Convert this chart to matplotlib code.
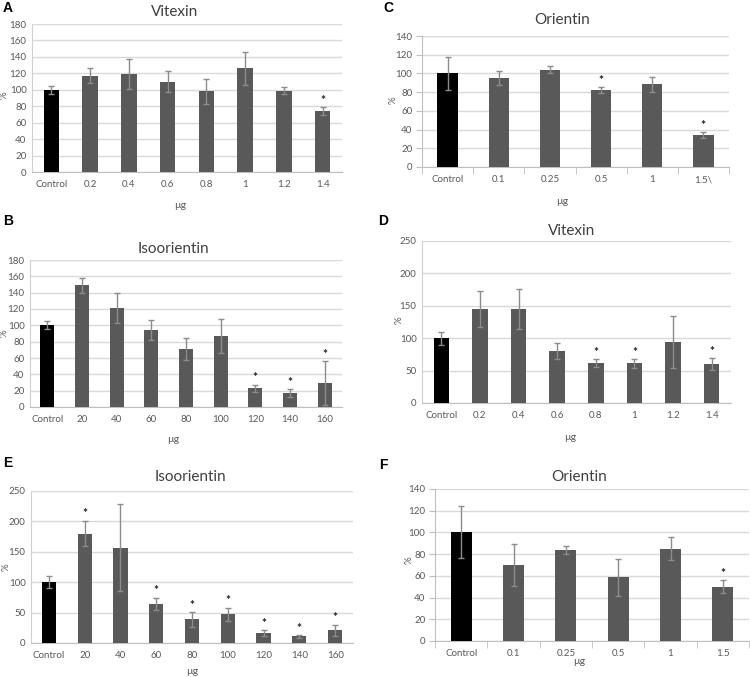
import matplotlib
matplotlib.use('Agg')
import matplotlib.pyplot as plt
import numpy as np

plt.rcParams['font.family'] = ['Lato', 'DejaVu Sans']

# data
a_labels = ['Control', '0.2', '0.4', '0.6', '0.8', '1', '1.2', '1.4']
a_vals = [100, 117, 119, 110, 98, 126, 99, 74]
a_err = [5, 9, 18, 13, 15, 20, 4.5, 5]
a_star = [0, 0, 0, 0, 0, 0, 0, 1]

b_labels = ['Control', '20', '40', '60', '80', '100', '120', '140', '160']
b_vals = [100, 149, 121, 94, 71, 87, 23, 17, 29]
b_err = [5, 9, 18, 12.5, 14, 21, 4.5, 5, 27]
b_star = [0, 0, 0, 0, 0, 0, 1, 1, 1]

c_labels = ['Control', '0.1', '0.25', '0.5', '1', '1.5\\']
c_vals = [100, 95, 104, 82, 88.5, 34]
c_err = [18, 7.5, 4, 3, 8, 3.5]
c_star = [0, 0, 0, 1, 0, 1]

d_labels = ['Control', '0.2', '0.4', '0.6', '0.8', '1', '1.2', '1.4']
d_vals = [100, 145, 145, 80, 62, 61, 94, 60]
d_err = [10, 28, 31, 12, 6, 7, 40, 9.5]
d_star = [0, 0, 0, 0, 1, 1, 0, 1]

e_labels = ['Control', '20', '40', '60', '80', '100', '120', '140', '160']
e_vals = [100, 180, 157, 64, 39, 47, 16, 11, 21]
e_err = [10, 21, 71, 10.5, 12, 11, 5, 2, 9]
e_star = [0, 1, 0, 1, 1, 1, 1, 1, 1]

f_labels = ['Control', '0.1', '0.25', '0.5', '1', '1.5']
f_vals = [100, 70, 83.5, 58.5, 85, 50]
f_err = [24, 19, 3.7, 17, 10.6, 6]
f_star = [0, 0, 0, 0, 0, 1]

W, H = 750, 677
fig = plt.figure(figsize=(W / 100, H / 100), dpi=100)

GRID = '#d9d9d9'
BAR = '#595959'
ERR = '#8c8c8c'
TXT = '#595959'


def fx(x):
    return x / W


def fy(y):
    return 1 - y / H


def panel(box, letter, letter_xy, title, title_xy, xlab_xy, ylab_xy,
          labels, vals, errs, stars, ymax, ystep, ticked):
    l, t, r, b = box
    ax = fig.add_axes([fx(l), fy(b), fx(r - l), (b - t) / H])
    x = np.arange(len(labels))
    colors = ['black'] + [BAR] * (len(labels) - 1)
    ax.bar(x, vals, width=0.4, color=colors, zorder=3)
    ax.errorbar(x, vals, yerr=errs, fmt='none', ecolor=ERR, elinewidth=1,
                capsize=2.5, capthick=1, zorder=4)
    for i in range(len(labels)):
        if stars[i]:
            ax.annotate('*', (x[i], vals[i] + errs[i]), xytext=(0, 1),
                        textcoords='offset points', ha='center', va='bottom',
                        fontsize=8.5, color='#222222', fontweight='bold')
    ax.set_xlim(-0.5, len(labels) - 0.5)
    ax.set_ylim(0, ymax)
    ax.set_yticks(np.arange(0, ymax + 1, ystep))
    ax.set_xticks(x)
    ax.set_xticklabels(labels)
    ax.grid(axis='y', color=GRID, linewidth=1, zorder=0)
    ax.set_axisbelow(True)
    for s in ['top', 'right']:
        ax.spines[s].set_visible(False)
    ax.spines['bottom'].set_color('#bfbfbf')
    ax.spines['left'].set_color('#d0d0d0' if not ticked else '#bfbfbf')
    ax.tick_params(axis='both', labelsize=7, colors='#bfbfbf', labelcolor=TXT)
    if ticked:
        ax.tick_params(axis='x', which='major', length=0, pad=6)
        ax.set_xticks(np.arange(-0.5, len(labels)), minor=True)
        ax.tick_params(axis='x', which='minor', length=5, color='#bfbfbf')
        ax.tick_params(axis='y', length=4, pad=3)
    else:
        ax.tick_params(axis='x', length=0, pad=6)
        ax.tick_params(axis='y', length=0, pad=4)
    fig.text(fx(letter_xy[0]), fy(letter_xy[1]), letter, fontsize=10,
             fontweight='bold', family=['Liberation Sans', 'DejaVu Sans'],
             ha='center', va='center')
    fig.text(fx(title_xy[0]), fy(title_xy[1]), title, fontsize=11,
             color='#404040', ha='center', va='center')
    fig.text(fx(xlab_xy[0]), fy(xlab_xy[1]), 'µg', fontsize=7.5,
             color=TXT, ha='center', va='center')
    fig.text(fx(ylab_xy[0]), fy(ylab_xy[1]), '%', fontsize=7,
             color=TXT, ha='center', va='center', rotation=90)
    return ax


panel((32, 24, 342, 172), 'A', (8, 8), 'Vitexin', (175, 12), (180, 206), (4, 95),
      a_labels, a_vals, a_err, a_star, 180, 20, False)
panel((422, 36, 729, 167), 'C', (388, 8), 'Orientin', (562, 20), (562, 201), (393, 100),
      c_labels, c_vals, c_err, c_star, 140, 20, True)
panel((30, 260, 342, 407), 'B', (8, 221), 'Isoorientin', (173, 249), (173, 440), (4, 333),
      b_labels, b_vals, b_err, b_star, 180, 20, False)
panel((422, 241, 731, 403), 'D', (383, 221), 'Vitexin', (572, 231), (570, 437), (399, 320),
      d_labels, d_vals, d_err, d_star, 250, 50, False)
panel((31, 491, 353, 643), 'E', (8, 463), 'Isoorientin', (190, 477), (192, 671), (6, 567),
      e_labels, e_vals, e_err, e_star, 250, 50, False)
panel((435, 489, 749, 641), 'F', (383, 465), 'Orientin', (579, 477), (579, 661), (409, 560),
      f_labels, f_vals, f_err, f_star, 140, 20, True)

plt.savefig('out.png', dpi=100)
